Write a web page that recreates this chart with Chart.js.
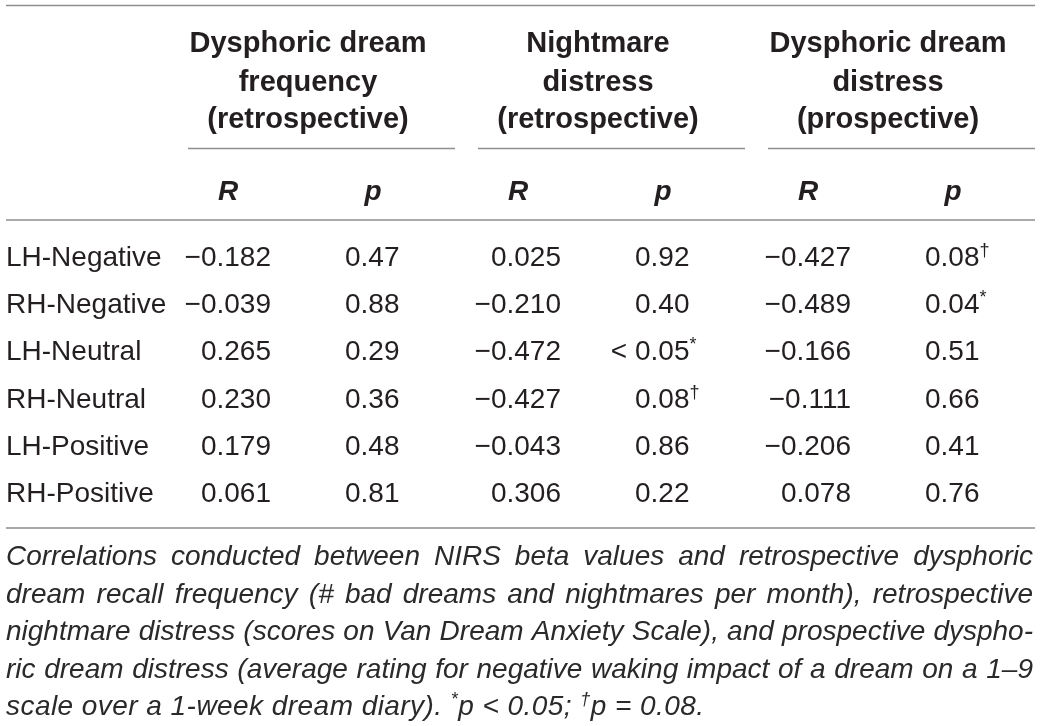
<!DOCTYPE html>
<html>
<head>
<meta charset="utf-8">
<script src="https://cdn.jsdelivr.net/npm/chart.js@4"></script>
<style>
html,body{margin:0;padding:0;background:#fff;}
#c{display:block;}
</style>
</head>
<body>
<canvas id="c" width="1040" height="726"></canvas>
<script>
// ---------- DATA ----------
const rowLabels = ['LH-Negative','RH-Negative','LH-Neutral','RH-Neutral','LH-Positive','RH-Positive'];
const groupTitles = [
  ['Dysphoric dream','frequency','(retrospective)'],
  ['Nightmare','distress','(retrospective)'],
  ['Dysphoric dream','distress','(prospective)']
];
const subHeaders = ['R','p'];

const rFrequency   = [-0.182, -0.039, 0.265, 0.230, 0.179, 0.061];
const pFrequency   = [0.47, 0.88, 0.29, 0.36, 0.48, 0.81];
const pFrequencyMark = ['', '', '', '', '', ''];
const pFrequencyPrefix = ['', '', '', '', '', ''];

const rNightmare   = [0.025, -0.210, -0.472, -0.427, -0.043, 0.306];
const pNightmare   = [0.92, 0.40, 0.05, 0.08, 0.86, 0.22];
const pNightmareMark = ['', '', '*', '\u2020', '', ''];
const pNightmarePrefix = ['', '', '< ', '', '', ''];

const rProspective = [-0.427, -0.489, -0.166, -0.111, -0.206, 0.078];
const pProspective = [0.08, 0.04, 0.51, 0.66, 0.41, 0.76];
const pProspectiveMark = ['\u2020', '*', '', '', '', ''];
const pProspectivePrefix = ['', '', '', '', '', ''];

const footnoteLines = [
  'Correlations conducted between NIRS beta values and retrospective dysphoric',
  'dream recall frequency (# bad dreams and nightmares per month), retrospective',
  'nightmare distress (scores on Van Dream Anxiety Scale), and prospective dyspho-',
  'ric dream distress (average rating for negative waking impact of a dream on a 1\u20139'
];
const footnoteLast = [
  {t:'scale over a 1-week dream diary). '}, {t:'*', sup:true}, {t:'p < 0.05; '},
  {t:'\u2020', sup:true}, {t:'p = 0.08.'}
];

// ---------- LAYOUT / STYLE ----------
const FONT = '"Liberation Sans", Arial, Helvetica, sans-serif';
const TEXT = '#231f20';
const RULE = '#8e8e8e';
const groupsR = [rFrequency, rNightmare, rProspective];
const groupsP = [pFrequency, pNightmare, pProspective];
const groupsMark = [pFrequencyMark, pNightmareMark, pProspectiveMark];
const groupsPrefix = [pFrequencyPrefix, pNightmarePrefix, pProspectivePrefix];

function fmtR(v){ const s = Math.abs(v).toFixed(3); return v < 0 ? '\u2212' + s : s; }
function fmtP(v){ return v.toFixed(2); }

const datasets = [];
datasets.push({ kind:'label', data: rowLabels.map((t,i)=>({x:-1.531, y:i, text:t})) });
for (let g=0; g<3; g++){
  datasets.push({ kind:'R', data: groupsR[g].map((v,i)=>({x:2*g, y:i, text:fmtR(v)})) });
  datasets.push({ kind:'p', data: groupsP[g].map((v,i)=>({x:2*g+1, y:i, text:fmtP(v), mark:groupsMark[g][i], prefix:groupsPrefix[g][i]})) });
}
datasets.forEach(d=>{ d.pointRadius=0; d.pointHoverRadius=0; d.showLine=false; });

function drawParts(ctx, parts, x, y, size, style){
  let cx = x;
  for (const p of parts){
    if (p.sup){
      ctx.font = style + ' ' + Math.round(size*0.64) + 'px ' + FONT;
      ctx.fillText(p.t, cx, y - size*0.36);
    } else {
      ctx.font = style + ' ' + size + 'px ' + FONT;
      ctx.fillText(p.t, cx, y);
    }
    cx += ctx.measureText(p.t).width;
  }
}

const tablePlugin = {
  id:'tablePlugin',
  afterDatasetsDraw(chart){
    const ctx = chart.ctx;
    const xs = chart.scales.x;
    ctx.save();
    ctx.textBaseline = 'alphabetic';
    ctx.fillStyle = TEXT;

    // rules
    ctx.strokeStyle = RULE; ctx.lineWidth = 1.6;
    const hline = (x0,x1,y)=>{ ctx.beginPath(); ctx.moveTo(x0,y); ctx.lineTo(x1,y); ctx.stroke(); };
    hline(6,1035,5.5);
    hline(6,1035,220);
    hline(6,1035,528);
    for (let g=0; g<3; g++){
      const rx = xs.getPixelForValue(2*g);
      hline(rx-40, Math.min(rx+227, 1035), 148.5);
    }

    // group headers
    const HF = 'bold 29px ' + FONT;
    ctx.textAlign = 'center';
    const hy = [52, 90.5, 128];
    for (let g=0; g<3; g++){
      const cx = xs.getPixelForValue(2*g) + 80;
      ctx.font = HF;
      groupTitles[g].forEach((t,k)=> ctx.fillText(t, cx, hy[k]));
      ctx.font = 'italic bold 28px ' + FONT;
      for (let k=0;k<2;k++) ctx.fillText(subHeaders[k], xs.getPixelForValue(2*g+k), 200);
    }

    // cells
    chart.data.datasets.forEach((ds, di)=>{
      const meta = chart.getDatasetMeta(di);
      meta.data.forEach((el, i)=>{
        const raw = ds.data[i];
        ctx.font = '28px ' + FONT;
        if (ds.kind === 'label'){
          ctx.textAlign = 'left';
          ctx.fillText(raw.text, el.x, el.y);
        } else if (ds.kind === 'R'){
          ctx.textAlign = 'right';
          ctx.fillText(raw.text, el.x + 43, el.y);
        } else {
          const left = el.x - 28;
          if (raw.prefix){
            ctx.textAlign = 'right';
            ctx.fillText(raw.prefix, left, el.y);
          }
          ctx.textAlign = 'left';
          const parts = [{t:raw.text}];
          if (raw.mark) parts.push({t:raw.mark, sup:true});
          drawParts(ctx, parts, left, el.y, 28, 'normal');
        }
      });
    });

    // footnote (justified)
    ctx.textAlign = 'left';
    ctx.fillStyle = '#2a2a2a';
    const fs = 28;
    ctx.font = 'italic ' + fs + 'px ' + FONT;
    const fy = [565, 602.5, 640, 677.5];
    const x0 = 6, x1 = 1033;
    footnoteLines.forEach((line, k)=>{
      const words = line.split(' ');
      const widths = words.map(w=>ctx.measureText(w).width);
      const sum = widths.reduce((a,b)=>a+b,0);
      const gap = (x1 - x0 - sum) / (words.length - 1);
      let cx = x0;
      words.forEach((w,j)=>{ ctx.fillText(w, cx, fy[k]); cx += widths[j] + gap; });
    });
    ctx.letterSpacing = '0.45px';
    drawParts(ctx, footnoteLast, x0, 715, fs, 'italic');
    ctx.letterSpacing = '0px';
    ctx.restore();
  }
};

new Chart(document.getElementById('c'), {
  type:'scatter',
  data:{ datasets },
  options:{
    responsive:false,
    animation:false,
    devicePixelRatio:1,
    layout:{ padding:0 },
    plugins:{ legend:{display:false}, tooltip:{enabled:false}, title:{display:false} },
    events:[],
    scales:{
      x:{ type:'linear', display:false, min:-228/145, max:(1040-228)/145 },
      y:{ type:'linear', display:false, reverse:true, min:-266/47.2, max:(726-266)/47.2 }
    }
  },
  plugins:[tablePlugin]
});
</script>
</body>
</html>
